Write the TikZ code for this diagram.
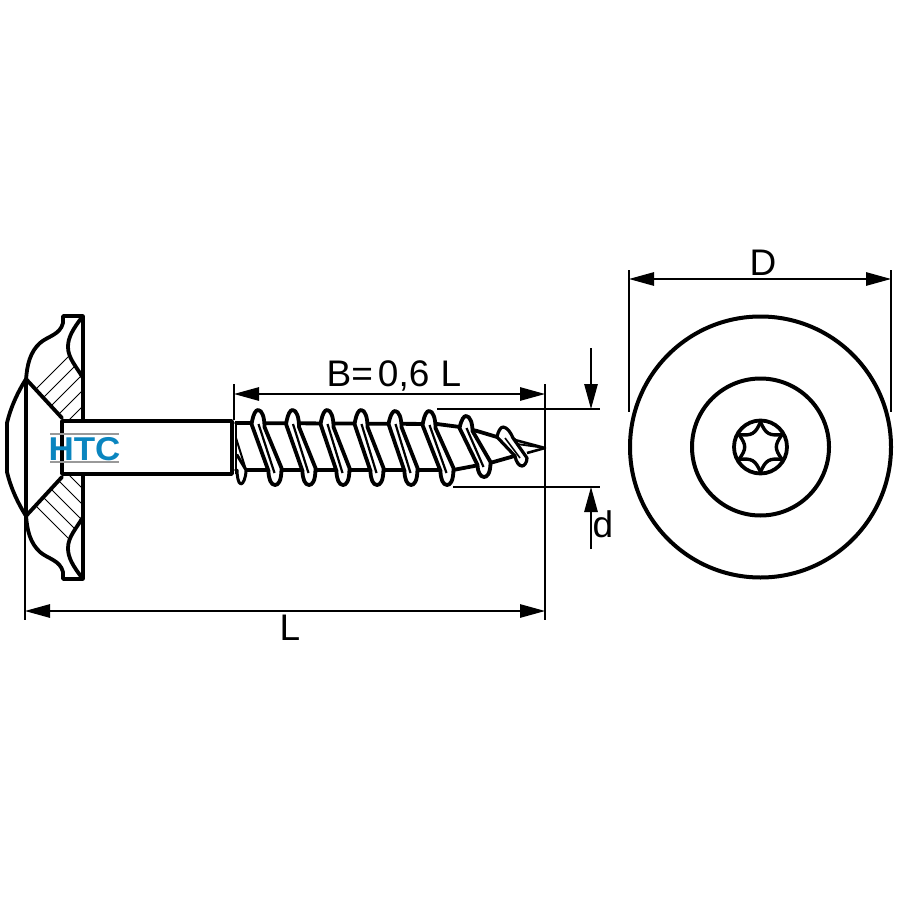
\documentclass[tikz,border=0pt]{standalone}
\usepackage{fontspec}
\setmainfont{Liberation Sans}
\usetikzlibrary{arrows.meta}
\definecolor{htcblue}{HTML}{0A85BF}
\tikzset{
  heavy/.style={line width=3.8pt,line join=round,line cap=round},
  thin line/.style={line width=1.1pt,black},
  hatchline/.style={line width=.9pt,black},
  dimline/.style={line width=1.2pt,{Triangle[length=25pt,width=13.5pt]}-{Triangle[length=25pt,width=13.5pt]}},
  dimdown/.style={line width=1.2pt,-{Triangle[length=25pt,width=13.5pt]}},
  dimtext/.style={font=\fontsize{37}{37}\selectfont,anchor=base,inner sep=0pt},
}
% thread: #1 crest x,#2 crest y,#3 base y top,#4 foot x,#5 foot y,#6 base y bottom,#7 half width
\newcommand{\thrpath}[7]{(#1-#7,#3) .. controls (#1-#7+2,#2+3) and (#1-2,#2) .. (#1,#2)
     .. controls (#1+4,#2) and (#1+#7,#2+7) .. (#1+#7,#3+3) -- (#4+#7,#6-2)
     .. controls (#4+#7,#5-3) and (#4+3,#5) .. (#4,#5)
     .. controls (#4-4,#5) and (#4-#7,#5-6) .. (#4-#7,#6+1) -- cycle}
\newcommand{\thr}[7]{%
  \draw[heavy,fill=white] \thrpath{#1}{#2}{#3}{#4}{#5}{#6}{#7};
  \draw[line width=2.2pt] (#1+0.5,#3) -- (#4-0.5,#6+3);
}
\newcommand{\halfhead}{%
  \begin{scope}
    \clip (26,380) .. controls (27,365) and (30,352) .. (40,343)
       .. controls (48,336) and (60,335) .. (63,323) -- (63,316) -- (83,316)
       .. controls (72,330) and (68,338) .. (68,347)
       .. controls (68,358) and (76,366) .. (83,378) -- (83,420) -- (62,420) -- cycle;
    \foreach \k in {0,...,13} {
      \draw[hatchline] (\k*16+0,425) -- ++(120,-120);
    }
  \end{scope}
  \draw[heavy] (83,420) -- (83,316) -- (63,316) -- (63,323)
     .. controls (60,335) and (48,336) .. (40,343)
     .. controls (30,352) and (27,365) .. (26,380);
  \draw[heavy] (83,316) .. controls (72,330) and (68,338) .. (68,347)
     .. controls (68,358) and (76,366) .. (83,378);
  \draw[heavy] (26,379) -- (62,418);
  \draw[heavy] (26,379) .. controls (16,395) and (10,410) .. (7,423) -- (7,447.5);
}
\begin{document}
\begin{tikzpicture}[x=1pt,y=-1pt]
\useasboundingbox[fill=white] (0,0) rectangle (900,901);
% head
\halfhead
\begin{scope}[shift={(0,895)},yscale=-1]
\halfhead
\end{scope}
\draw[heavy] (26,379) -- (26,516);
% shank
\draw[heavy,fill=white] (232,421) -- (62,421) -- (62,474) -- (232,474) -- cycle;
% logo
\draw[line width=1.3pt,gray!80] (50,434) -- (119,434) (50,462) -- (119,462);
\node[inner sep=0pt,text=htcblue] (logo) at (84.5,449)
   {\scalebox{1.06}[1]{\fontsize{33}{33}\selectfont\bfseries HTC}};
% tip
\path[fill=white] (515,440) -- (545,448) -- (518,455) -- cycle;
\draw[line width=2.6pt,line join=round] (515,440) -- (545,448) -- (527,453);
\draw[line width=1.8pt] (517,444) -- (545,448);
% core
\draw[heavy,fill=white] (236,423) -- (437,424) -- (460,427) -- (477,431) -- (497,437) -- (515,440)
  -- (518,455) -- (490,463) -- (453,470) -- (236,470);
\draw[line width=2pt] (236,421) -- (236,474);
\draw[line width=2pt] (236,438) -- (246,470);
\draw[heavy,line width=3pt,fill=white] (237,455) -- (246,470) .. controls (246,478) and (243,484) .. (241,484)
   .. controls (238,484) and (237,475) .. (237,470);
% threads
\thr{258}{410}{424}{275}{485}{470}{6.5}
\thr{292.5}{410}{424}{309}{485}{470}{6.5}
\thr{327}{410}{424}{343}{485}{470}{6.5}
\thr{361}{410}{424}{377}{485}{470}{6.5}
\thr{395}{411}{424}{411}{485}{470}{6.5}
\thr{429}{411}{425}{447}{485}{470}{6.5}
\thr{466}{416}{428}{484}{477}{464}{6.5}
\draw[heavy,line width=3.2pt,fill=white] (497,437) .. controls (498,431) and (501,427) .. (503,427)
   .. controls (507,427) and (511,433) .. (513,438) -- (527,458)
   .. controls (527,463) and (524,466) .. (522,466)
   .. controls (519,466) and (516,462) .. (515,456) -- cycle;
\draw[line width=1.6pt] (505,438) -- (520,458);
% dimension lines
\coordinate (bl) at (234,394); \coordinate (br) at (545,394);
\coordinate (ll) at (25,611);  \coordinate (lr) at (545,611);
\coordinate (dl) at (629,279); \coordinate (dr) at (891,279);
\draw[thin line] (234,384) -- (234,420);
\draw[thin line] (545,384) -- (545,620);
\draw[thin line] (25,514) -- (25,620);
\draw[thin line] (437,409) -- (600,409);
\draw[thin line] (453,487) -- (600,487);
\draw[thin line] (629,270) -- (629,412);
\draw[thin line] (891,270) -- (891,412);
\draw[dimline] (bl) -- (br);
\draw[dimline] (ll) -- (lr);
\draw[dimline] (dl) -- (dr);
\coordinate (ua) at (591,348); \coordinate (ub) at (591,409);
\coordinate (va) at (591,549); \coordinate (vb) at (591,487);
\draw[dimdown] (ua) -- (ub);
\draw[dimdown] (va) -- (vb);
\node[dimtext] (lB) at (394,386) {B=\kern5pt 0,6\kern1pt\ L};
\node[dimtext] (lL) at (290,640) {L};
\node[dimtext] (lD) at (763,275) {D};
\node[dimtext] (ld) at (603,537) {d};
% front view
\coordinate (c) at (760.5,447);
\draw[heavy,line width=4pt] (c) circle[radius=130.5];
\draw[heavy,line width=4pt] (c) circle[radius=68.5];
\draw[heavy,line width=3.8pt] (c) circle[radius=26.5];
\begin{scope}[shift={(c)}]
\foreach \a in {30,90,...,330} {
  \draw[line width=3.4pt,line cap=round] (\a:25) .. controls ({\a+22}:14) and ({\a+38}:14) .. ({\a+60}:25);
}
\end{scope}
\end{tikzpicture}
\end{document}
